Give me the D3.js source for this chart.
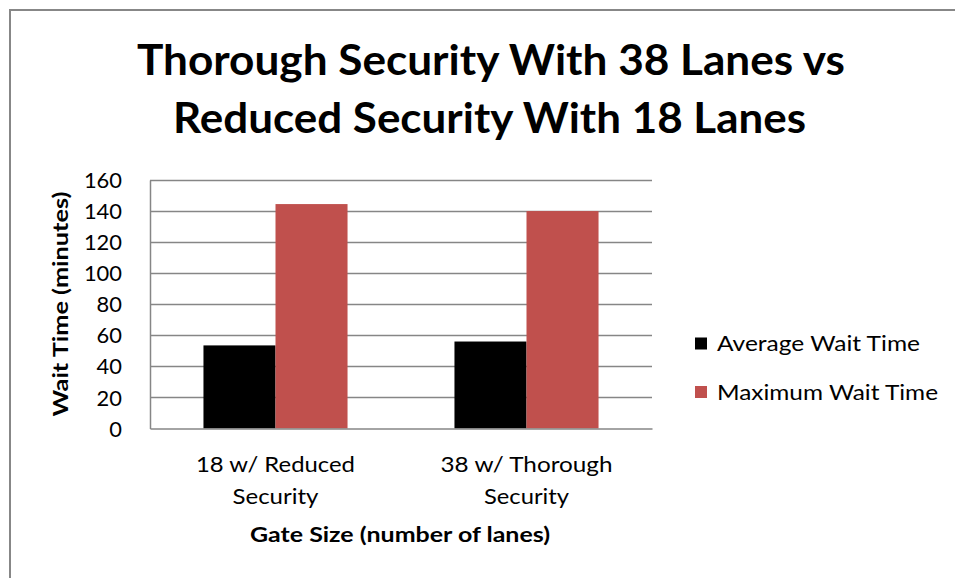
<!DOCTYPE html>
<html>
<head>
<meta charset="utf-8">
<script src="https://cdn.jsdelivr.net/npm/d3@7"></script>
<style>
  body { margin: 0; background: #fff; }
  text { font-family: Lato, "Open Sans", sans-serif; fill: #000; }
</style>
</head>
<body>
<svg id="chart" width="955" height="578"></svg>
<script>
const titleLines = ["Thorough Security With 38 Lanes vs", "Reduced Security With 18 Lanes"];
const categories = ["18 w/ Reduced Security", "38 w/ Thorough Security"];
const categoryLines = [["18 w/ Reduced", "Security"], ["38 w/ Thorough", "Security"]];
const seriesNames = ["Average Wait Time", "Maximum Wait Time"];
const averageWait = [53.5, 56];
const maximumWait = [144.5, 140];
const yTicks = [0, 20, 40, 60, 80, 100, 120, 140, 160];
const colors = ["#000000", "#C0504D"];
const yTitle = "Wait Time (minutes)";
const xTitle = "Gate Size (number of lanes)";

const svg = d3.select("#chart");
const W = 955, H = 578;
const m = { left: 150, right: 652, top: 180, bottom: 428.5 };

svg.append("rect").attr("x", 0).attr("y", 0).attr("width", W).attr("height", H).attr("fill", "#fff");
svg.append("path").attr("d", `M10,${H} V10 H${W}`).attr("fill", "none").attr("stroke", "#878787").attr("stroke-width", 2);

function addText(parent, x, yy, str, fs, len, weight, anchor) {
  const t = parent.append("text").attr("x", x).attr("y", yy)
    .attr("text-anchor", anchor || "middle").attr("font-size", fs)
    .attr("font-weight", weight || "normal").text(str);
  if (len) t.attr("textLength", len).attr("lengthAdjust", "spacingAndGlyphs");
  return t;
}

// title
addText(svg, 491, 75, titleLines[0], 42, 708, "bold");
addText(svg, 489.5, 132.5, titleLines[1], 42, 633, "bold");

const y = d3.scaleLinear().domain([0, 160]).range([m.bottom, m.top]);
const x0 = d3.scaleBand().domain(categories).range([m.left, m.right]).paddingInner(0).paddingOuter(0);
const groupW = x0.bandwidth() * 0.574;
const x1 = d3.scaleBand().domain(seriesNames).range([0, groupW]).padding(0);

// gridlines
svg.append("g").selectAll("line").data(yTicks.filter(d => d > 0)).join("line")
  .attr("x1", m.left).attr("x2", m.right)
  .attr("y1", d => Math.round(y(d)) + 0.5).attr("y2", d => Math.round(y(d)) + 0.5)
  .attr("stroke", "#868686").attr("stroke-width", 1.5);

// bars
const data = categories.map((c, i) => ({ cat: c, vals: [averageWait[i], maximumWait[i]] }));
const groups = svg.append("g").selectAll("g").data(data).join("g")
  .attr("transform", d => `translate(${x0(d.cat) + (x0.bandwidth() - groupW) / 2},0)`);
groups.selectAll("rect").data(d => d.vals.map((v, j) => ({ s: seriesNames[j], v, j }))).join("rect")
  .attr("x", d => x1(d.s)).attr("width", x1.bandwidth())
  .attr("y", d => y(d.v)).attr("height", d => y(0) - y(d.v))
  .attr("fill", d => colors[d.j]);

// y axis
const yAxis = svg.append("g").attr("transform", `translate(${m.left},0)`)
  .call(d3.axisLeft(y).tickValues(yTicks).tickSize(0).tickPadding(28));
yAxis.select(".domain").attr("stroke", "#868686").attr("stroke-width", 1.5);
yAxis.selectAll("text").attr("font-size", 21).attr("font-family", "Lato, sans-serif").attr("fill", "#000")
  .attr("dy", "0.36em")
  .attr("textLength", d => String(d).length * 12.7).attr("lengthAdjust", "spacingAndGlyphs");

// x axis line
const xAxis = svg.append("g").attr("transform", `translate(0,${m.bottom})`)
  .call(d3.axisBottom(x0).tickSize(0).tickFormat(""));
xAxis.select(".domain").attr("stroke", "#868686").attr("stroke-width", 1.5);

// x category labels
const catWidths = [[159, 86], [172, 85]];
categories.forEach((c, i) => {
  const cx = x0(c) + x0.bandwidth() / 2;
  categoryLines[i].forEach((line, k) => {
    addText(svg, cx, 472 + k * 31.5, line, 21, catWidths[i][k]);
  });
});

// axis titles
addText(svg, 400, 542, xTitle, 21, 300, "bold");
const yt = svg.append("g").attr("transform", `translate(68,304) rotate(-90)`);
addText(yt, 0, 0, yTitle, 21, 225, "bold");

// legend
const legendWidths = [203, 221];
const legend = svg.append("g").selectAll("g").data(seriesNames).join("g")
  .attr("transform", (d, i) => `translate(695,${337.5 + i * 48.5})`);
legend.append("rect").attr("width", 12).attr("height", 12).attr("fill", (d, i) => colors[i]);
legend.each(function (d, i) {
  addText(d3.select(this), 22, 13.5, d, 21, legendWidths[i], "normal", "start");
});
</script>
</body>
</html>
